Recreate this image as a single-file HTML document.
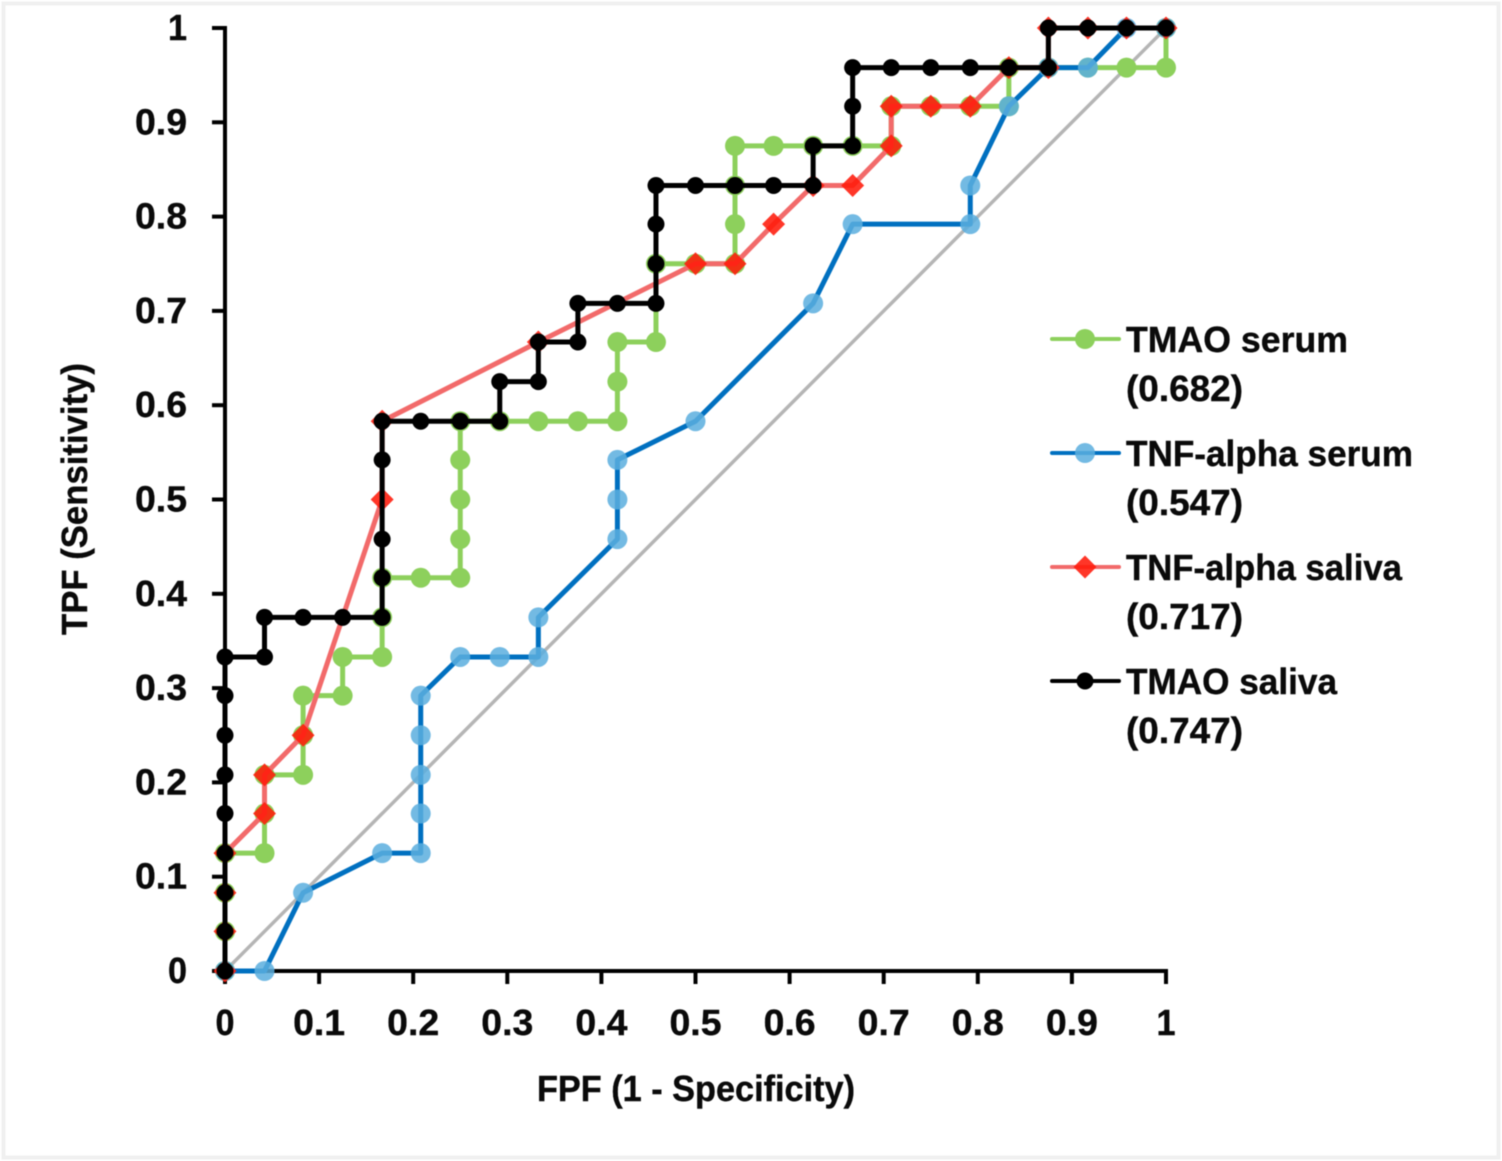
<!DOCTYPE html>
<html lang="en">
<head>
<meta charset="utf-8">
<title>ROC curves for TMAO and TNF-alpha</title>
<style>
  html, body { margin: 0; padding: 0; background: #fff; }
  #chart { display: block; width: 1502px; height: 1161px; filter: blur(0.6px); }
  text { font-family: "Liberation Sans", sans-serif; font-weight: bold; fill: #0a0a0a; stroke: #0a0a0a; stroke-width: 0.4px; }
</style>
</head>
<body>
<svg id="chart" xmlns="http://www.w3.org/2000/svg" width="1502" height="1161" viewBox="0 0 1502 1161">
  <rect x="3.5" y="3.5" width="1495" height="1154" fill="#fff" stroke="#f0f0f0" stroke-width="4"/>
  <g id="axes"></g>
  <g id="series"></g>
  <g id="legend"></g>
  <text x="696" y="1101" font-size="36" text-anchor="middle" textLength="318" lengthAdjust="spacingAndGlyphs">FPF (1 - Specificity)</text>
  <text transform="translate(87 499) rotate(-90)" font-size="36" text-anchor="middle" textLength="272" lengthAdjust="spacingAndGlyphs">TPF (Sensitivity)</text>
</svg>
<script>
const xTickLabels = ['0','0.1','0.2','0.3','0.4','0.5','0.6','0.7','0.8','0.9','1'];
const yTickLabels = ['0','0.1','0.2','0.3','0.4','0.5','0.6','0.7','0.8','0.9','1'];

const diagonalX = [0, 1];
const diagonalY = [0, 1];

const tmaoSerumX = [0,0,0,0,0.042,0.042,0.042,0.083,0.083,0.083,0.125,0.125,0.167,0.167,0.167,0.208,0.25,0.25,0.25,0.25,0.25,0.292,0.333,0.375,0.417,0.417,0.417,0.458,0.458,0.5,0.542,0.542,0.542,0.542,0.583,0.625,0.667,0.708,0.708,0.75,0.792,0.833,0.833,0.875,0.917,0.958,1,1];
const tmaoSerumY = [0,0.042,0.083,0.125,0.125,0.167,0.208,0.208,0.25,0.292,0.292,0.333,0.333,0.375,0.417,0.417,0.417,0.458,0.5,0.542,0.583,0.583,0.583,0.583,0.583,0.625,0.667,0.667,0.75,0.75,0.75,0.792,0.833,0.875,0.875,0.875,0.875,0.875,0.917,0.917,0.917,0.917,0.958,0.958,0.958,0.958,0.958,1];

const tnfSerumX = [0,0.042,0.083,0.167,0.208,0.208,0.208,0.208,0.208,0.25,0.292,0.333,0.333,0.417,0.417,0.417,0.5,0.625,0.667,0.792,0.792,0.833,0.875,0.917,0.958,1];
const tnfSerumY = [0,0,0.083,0.125,0.125,0.167,0.208,0.25,0.292,0.333,0.333,0.333,0.375,0.458,0.5,0.542,0.583,0.708,0.792,0.792,0.833,0.917,0.958,0.958,1,1];

const tnfSalivaX = [0,0,0,0,0.042,0.042,0.083,0.167,0.167,0.333,0.5,0.542,0.583,0.625,0.667,0.708,0.708,0.75,0.792,0.833,0.875,0.875,0.917,0.958,1];
const tnfSalivaY = [0,0.042,0.083,0.125,0.167,0.208,0.25,0.5,0.583,0.667,0.75,0.75,0.792,0.833,0.833,0.875,0.917,0.917,0.917,0.958,0.958,1,1,1,1];

const tmaoSalivaX = [0,0,0,0,0,0,0,0,0,0.042,0.042,0.083,0.125,0.167,0.167,0.167,0.167,0.167,0.208,0.25,0.292,0.292,0.333,0.333,0.375,0.375,0.417,0.458,0.458,0.458,0.458,0.5,0.542,0.583,0.625,0.625,0.667,0.667,0.667,0.708,0.75,0.792,0.833,0.875,0.875,0.917,0.958,1];
const tmaoSalivaY = [0,0.042,0.083,0.125,0.167,0.208,0.25,0.292,0.333,0.333,0.375,0.375,0.375,0.375,0.417,0.458,0.542,0.583,0.583,0.583,0.583,0.625,0.625,0.667,0.667,0.708,0.708,0.708,0.75,0.792,0.833,0.833,0.833,0.833,0.833,0.875,0.875,0.917,0.958,0.958,0.958,0.958,0.958,0.958,1,1,1,1];

const legendNames = ['TMAO serum','TNF-alpha serum','TNF-alpha saliva','TMAO saliva'];
const legendAuc = ['(0.682)','(0.547)','(0.717)','(0.747)'];

const NS = 'http://www.w3.org/2000/svg';
const X0 = 225, X1 = 1166, Y0 = 971, Y1 = 28;
function xScale(v) { return X0 + (X1 - X0) * v; }
function yScale(v) { return Y0 - (Y0 - Y1) * v; }
function make(tag, attrs, parent) {
  const el = document.createElementNS(NS, tag);
  for (const k in attrs) el.setAttribute(k, attrs[k]);
  parent.appendChild(el);
  return el;
}
function widthFor(label) { return label.length === 1 ? 19 : 52; }

const axes = document.getElementById('axes');

xTickLabels.forEach(function (label) {
  const v = parseFloat(label);
  const tick = make('line', {x1: xScale(v), x2: xScale(v), y1: Y0, y2: Y0 + 13, stroke: '#000', 'stroke-width': 4}, axes);
  
  
  const t = make('text', {x: xScale(v), y: 1035, 'font-size': 36, 'text-anchor': 'middle', textLength: widthFor(label), lengthAdjust: 'spacingAndGlyphs'}, axes);
  t.textContent = label;
  
  
});

yTickLabels.forEach(function (label) {
  const v = parseFloat(label);
  const tick = make('line', {x1: X0 - 13, x2: X0, y1: yScale(v), y2: yScale(v), stroke: '#000', 'stroke-width': 4}, axes);
  
  
  const t = make('text', {x: 187, y: yScale(v) + 12, 'font-size': 36, 'text-anchor': 'end', textLength: widthFor(label), lengthAdjust: 'spacingAndGlyphs'}, axes);
  t.textContent = label;
  
  
});

const xAxisLine = make('line', {x1: X0 - 2, x2: X1 + 2, y1: Y0, y2: Y0, stroke: '#000', 'stroke-width': 4}, axes);


const yAxisLine = make('line', {x1: X0, x2: X0, y1: Y1 - 2, y2: Y0 + 13, stroke: '#000', 'stroke-width': 4}, axes);



function pointsOf(xs, ys) {
  return xs.map(function (x, i) { return xScale(x).toFixed(2) + ',' + yScale(ys[i]).toFixed(2); }).join(' ');
}

function drawMarker(parent, kind, cx, cy, color, opacity, size) {
  if (kind === 'diamond') {
    return make('polygon', {
      points: cx + ',' + (cy - size) + ' ' + (cx + size) + ',' + cy + ' ' + cx + ',' + (cy + size) + ' ' + (cx - size) + ',' + cy,
      fill: color, 'fill-opacity': opacity
    }, parent);
  }
  return make('circle', {cx: cx, cy: cy, r: size, fill: color, 'fill-opacity': opacity}, parent);
}

const seriesRoot = document.getElementById('series');

const diagonalLine = make('polyline', {points: pointsOf(diagonalX, diagonalY), fill: 'none', stroke: '#b5b5b5', 'stroke-width': 3.5}, seriesRoot);



const styles = [
  {line: '#8dd05c', marker: '#8dd05c', opacity: 1, kind: 'circle', size: 10, width: 5},
  {line: '#0070c0', marker: '#5aaede', opacity: 0.85, kind: 'circle', size: 10, width: 5},
  {line: '#f26a6a', marker: '#ff1a0a', opacity: 0.88, kind: 'diamond', size: 11.5, width: 5},
  {line: '#000000', marker: '#000000', opacity: 1, kind: 'circle', size: 8.5, width: 5}
];

function drawSeries(xs, ys, style) {
  const g = make('g', {}, seriesRoot);
  const line = make('polyline', {points: pointsOf(xs, ys), fill: 'none', stroke: style.line, 'stroke-width': style.width, 'stroke-linejoin': 'round'}, g);
  
  xs.forEach(function (x, i) {
    drawMarker(g, style.kind, xScale(x), yScale(ys[i]), style.marker, style.opacity, style.size);
  });
  return {group: g, line: line};
}

const tmaoSerumMarks = drawSeries(tmaoSerumX, tmaoSerumY, styles[0]);




const tnfSerumMarks = drawSeries(tnfSerumX, tnfSerumY, styles[1]);




const tnfSalivaMarks = drawSeries(tnfSalivaX, tnfSalivaY, styles[2]);




const tmaoSalivaMarks = drawSeries(tmaoSalivaX, tmaoSalivaY, styles[3]);




const legendRoot = document.getElementById('legend');
const nameWidths = [222, 287, 276, 211];
legendNames.forEach(function (name, i) {
  const y = 339 + 114 * i;
  const s = styles[i];
  const entry = make('g', {}, legendRoot);
  
  
  make('line', {x1: 1052, x2: 1119, y1: y, y2: y, stroke: s.line, 'stroke-width': 4, 'stroke-linecap': 'round'}, entry);
  drawMarker(entry, s.kind, 1085, y, s.marker, s.opacity, s.size);
  const label = make('text', {x: 1126, y: y + 13, 'font-size': 36, textLength: nameWidths[i], lengthAdjust: 'spacingAndGlyphs'}, entry);
  label.textContent = name;
  
  
  const auc = make('text', {x: 1126, y: y + 62, 'font-size': 36, textLength: 117, lengthAdjust: 'spacingAndGlyphs'}, entry);
  auc.textContent = legendAuc[i];
  
  
});
</script>
</body>
</html>
